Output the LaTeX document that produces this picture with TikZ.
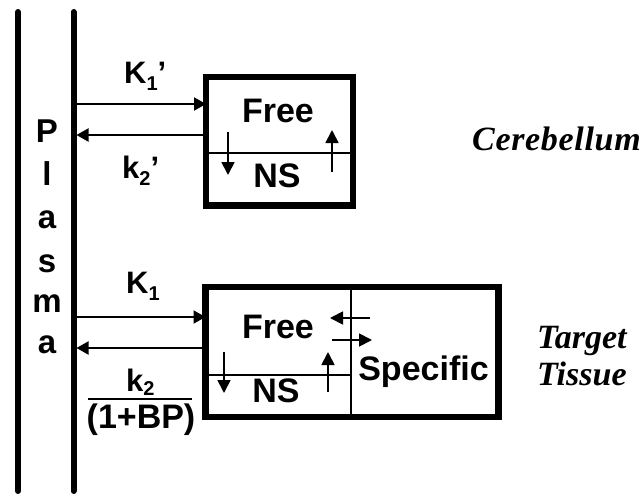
\documentclass[tikz,border=0pt]{standalone}
\usepackage{fontspec}
\setmainfont{Liberation Sans}
\newfontfamily\serifit{Liberation Serif}
\usetikzlibrary{arrows.meta}
\newcommand\lowsub[2][-7pt]{\raisebox{#1}{\fontsize{20}{20}\selectfont #2}}
\begin{document}
\begin{tikzpicture}[x=1pt,y=-1pt,
  plasmaline/.style={line width=6pt,line cap=round},
  box/.style={draw,line width=6.5pt,inner sep=0pt,outer sep=0pt},
  divider/.style={line width=2pt},
  flux/.style={line width=2pt,-{Triangle[length=12pt,width=13pt]}},
  smallarr/.style={line width=1.8pt,-{Triangle[length=13pt,width=13pt]}},
  big/.style={font=\fontsize{34}{40}\selectfont\bfseries,inner sep=0pt,anchor=base},
  letter/.style={font=\fontsize{33}{40}\selectfont\bfseries,inner sep=0pt,anchor=base},
  rate/.style={font=\fontsize{31}{36}\selectfont\bfseries,inner sep=0pt,anchor=base west},
  region/.style={font=\fontsize{34}{40}\selectfont\serifit\bfseries\itshape,inner sep=0pt,anchor=base west}
]
\useasboundingbox (0,0) rectangle (643,493);

% plasma membrane lines
\coordinate (plLtop) at (18,12);
\coordinate (plLbot) at (18,491);
\coordinate (plRtop) at (73.5,12);
\coordinate (plRbot) at (73.5,491);
\draw[plasmaline] (plLtop) -- (plLbot);
\draw[plasmaline] (plRtop) -- (plRbot);

% Plasma letters
\node[letter] (pP) at (47,142) {P};
\node[letter] (pl) at (47,185) {l};
\node[letter] (pa) at (47,228) {a};
\node[letter] (ps) at (47,272) {s};
\node[letter] (pm) at (47,312) {m};
\node[letter] (pa2) at (47,353) {a};

% boxes
\node[box,minimum width=147pt,minimum height=128.5pt] (cbox) at (279.5,141.25) {};
\node[box,minimum width=293pt,minimum height=130pt] (tbox) at (352,352) {};

% upper box divider
\coordinate (cdiv) at (0,153);
\draw[divider] (cdiv -| cbox.west) -- (cdiv -| cbox.east);

% lower box dividers
\coordinate (tdivx) at (351,0);
\coordinate (tdivy) at (0,375);
\draw[divider] (tdivx |- tbox.north) -- (tdivx |- tbox.south);
\draw[divider] (tdivy -| tbox.west) -- (tdivy -| tdivx);

% box texts
\node[big] (cfree) at (278,122) {Free};
\node[big] (cns) at (277,187) {NS};
\node[big] (tfree) at (278,338) {Free};
\node[big] (tns) at (276,402) {NS};
\node[big] (tspec) at (423.5,380) {Specific};

% small arrows, upper box
\coordinate (cd1) at (228,132); \coordinate (cd2) at (228,175);
\coordinate (cu1) at (332,172); \coordinate (cu2) at (332,130);
\draw[smallarr] (cd1) -- (cd2);
\draw[smallarr] (cu1) -- (cu2);

% small arrows, lower box
\coordinate (td1) at (224,352); \coordinate (td2) at (224,393);
\coordinate (tu1) at (328,392); \coordinate (tu2) at (328,352);
\coordinate (tl1) at (370,318); \coordinate (tl2) at (330,318);
\coordinate (tr1) at (332,340); \coordinate (tr2) at (372,340);
\draw[smallarr] (td1) -- (td2);
\draw[smallarr] (tu1) -- (tu2);
\draw[smallarr] (tl1) -- (tl2);
\draw[smallarr] (tr1) -- (tr2);

% flux arrows between plasma and boxes
\coordinate (pc1) at (76.5,104);
\coordinate (pc2) at (76.5,135);
\coordinate (pt1) at (76.5,317);
\coordinate (pt2) at (76.5,348);
\draw[flux] (pc1) -- (pc1 -| cbox.west);
\draw[flux] (pc2 -| cbox.west) -- (pc2);
\draw[flux] (pt1) -- (pt1 -| tbox.west);
\draw[flux] (pt2 -| tbox.west) -- (pt2);

% rate labels
\node[rate] (K1p) at (124,83) {K\lowsub{1}’};
\node[rate] (k2p) at (122,178) {k\lowsub{2}’};
\node[rate] (K1) at (126,293) {K\lowsub{1}};
\node[rate] (k2) at (126,391) {k\lowsub[-4pt]{2}};
\coordinate (barL) at (88,398.5);
\coordinate (barR) at (192,398.5);
\draw[line width=2pt] (barL) -- (barR);
\node[big] (bp) at (141,428) {(1+BP)};

% region labels
\node[region] (cereb) at (472,150) {\addfontfeature{LetterSpace=2}Cerebellum};
\node[region] (target) at (537,348) {Target};
\node[region] (tissue) at (537,385) {Tissue};
\end{tikzpicture}
\end{document}
